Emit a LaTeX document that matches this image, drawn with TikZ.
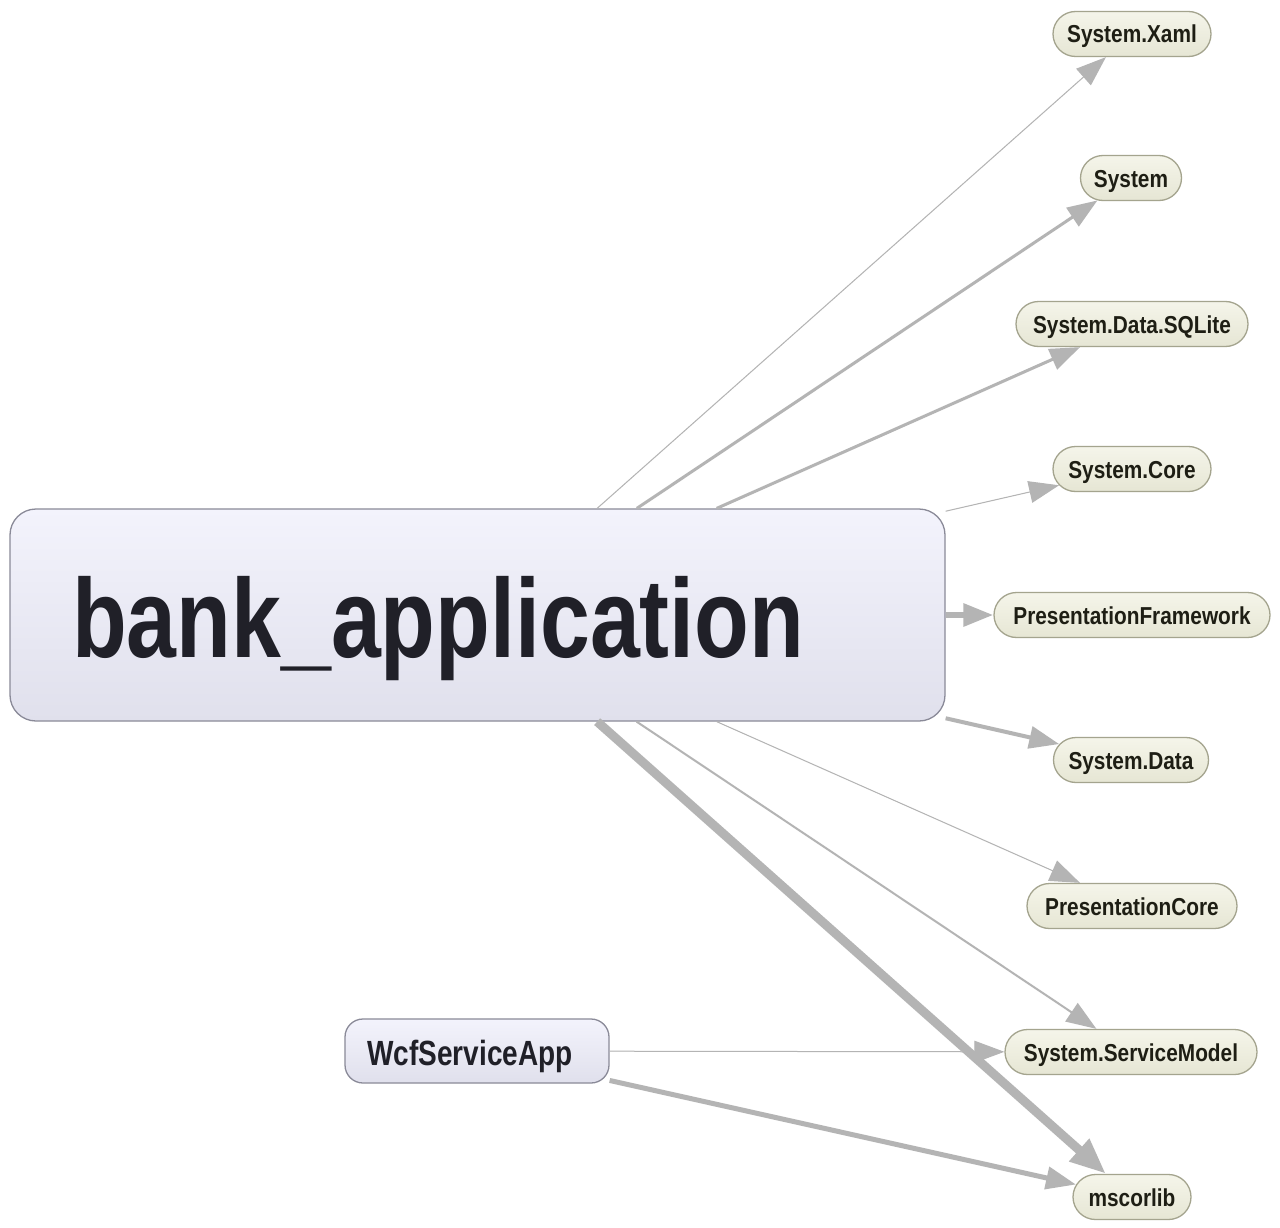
\documentclass[tikz,border=0pt]{standalone}
\usepackage{fontspec}
\usetikzlibrary{arrows.meta,shapes.misc}
\newfontfamily\bigf[FakeStretch=0.80]{Liberation Sans Bold}
\newfontfamily\smallf[FakeStretch=0.85]{Liberation Sans Bold}
\definecolor{edgec}{HTML}{B4B4B4}
\definecolor{libtop}{HTML}{F5F5EA}
\definecolor{libbot}{HTML}{E6E6D4}
\definecolor{libdraw}{HTML}{A4A48E}
\definecolor{libtext}{HTML}{1E1E14}
\definecolor{projtop}{HTML}{F3F3FC}
\definecolor{projbot}{HTML}{E0E0EC}
\definecolor{projdraw}{HTML}{8A8A98}
\definecolor{projtext}{HTML}{202028}
\begin{document}
\begin{tikzpicture}[x=1pt,y=-1pt,
  lib/.style={rounded rectangle, minimum height=45pt, inner sep=0pt,
    text height=22pt, text depth=4pt,
    top color=libtop, bottom color=libbot, draw=libdraw, line width=1.3pt,
    font=\smallf\fontsize{24.5}{24.5}\selectfont, text=libtext},
  proj/.style={rectangle, inner sep=0pt, top color=projtop, bottom color=projbot,
    draw=projdraw, line width=1.3pt, text=projtext},
  dep/.style={draw=edgec, fill=edgec, -{Triangle[length=30pt,width=22pt]}}
]
\useasboundingbox (0,0) rectangle (1280,1228);
\fill[white] (0,0) rectangle (1280,1228);

% library nodes
\node[lib, minimum width=158pt] (xaml) at (1132,34) {System.Xaml};
\node[lib, minimum width=101pt] (sys) at (1131,178) {System};
\node[lib, minimum width=232pt] (sqlite) at (1132,324) {System.Data.SQLite};
\node[lib, minimum width=158pt] (core) at (1132,469) {System.Core};
\node[lib, minimum width=276pt] (pf) at (1132,615) {PresentationFramework};
\node[lib, minimum width=155pt] (data) at (1131,760) {System.Data};
\node[lib, minimum width=210pt] (pc) at (1132,906) {PresentationCore};
\node[lib, minimum width=252pt] (sm) at (1131,1052) {System.ServiceModel};
\node[lib, minimum width=118pt] (ms) at (1132,1197) {mscorlib};

% project nodes
\node[proj, rounded corners=26pt, minimum width=935pt, minimum height=212pt] (bank) at (477.5,615) {};
\node[anchor=base west, inner sep=0pt, text=projtext, font=\bigf\fontsize{112}{112}\selectfont] (banklabel) at (72,657) {bank\_application};
\node[proj, rounded corners=18pt, minimum width=264pt, minimum height=64pt,
  text height=32pt, text depth=4pt,
  font=\bigf\fontsize{35}{35}\selectfont] (wcf) at (477,1051) {\hspace*{-14pt}WcfServiceApp};

% dependencies
\draw[dep, line width=1pt] (bank) -- (xaml);
\draw[dep, line width=3pt] (bank) -- (sys);
\draw[dep, line width=3pt] (bank) -- (sqlite);
\draw[dep, line width=1pt] (bank) -- (core);
\draw[dep, line width=6pt] (bank) -- (pf);
\draw[dep, line width=4pt] (bank) -- (data);
\draw[dep, line width=1pt] (bank) -- (pc);
\draw[dep, line width=2pt] (bank) -- (sm);
\draw[dep, line width=9pt, -{Triangle[length=36pt,width=28pt]}] (bank) -- (ms);
\draw[dep, line width=1pt] (wcf) -- (sm);
\draw[dep, line width=5pt] (wcf) -- (ms);
\end{tikzpicture}
\end{document}
